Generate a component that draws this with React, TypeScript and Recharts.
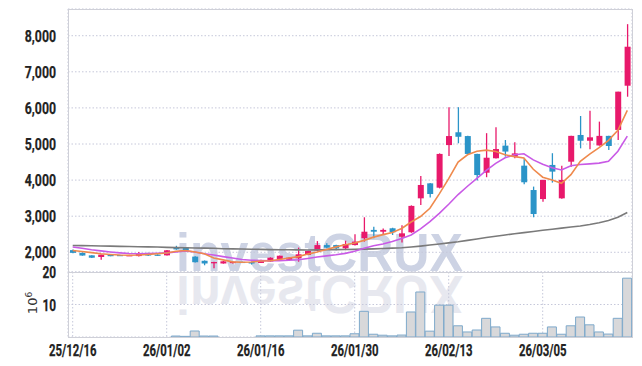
import React from 'react';
import { ComposedChart, Bar, Line, XAxis, YAxis, CartesianGrid } from 'recharts';

const dates = [
  '25/12/16', '25/12/17', '25/12/18', '25/12/19', '25/12/22', '25/12/23', '25/12/24', '25/12/26', '25/12/29', '25/12/30',
  '26/01/02', '26/01/05', '26/01/06', '26/01/07', '26/01/08', '26/01/09', '26/01/12', '26/01/13', '26/01/14', '26/01/15',
  '26/01/16', '26/01/19', '26/01/20', '26/01/21', '26/01/22', '26/01/23', '26/01/26', '26/01/27', '26/01/28', '26/01/29',
  '26/01/30', '26/02/02', '26/02/03', '26/02/04', '26/02/05', '26/02/06', '26/02/09', '26/02/10', '26/02/11', '26/02/12',
  '26/02/13', '26/02/19', '26/02/20', '26/02/23', '26/02/24', '26/02/25', '26/02/26', '26/02/27', '26/03/03', '26/03/04',
  '26/03/05', '26/03/06', '26/03/09', '26/03/10', '26/03/11', '26/03/12', '26/03/13', '26/03/16', '26/03/17', '26/03/18',
];

const opens = [
  2060, 1985, 1915, 1870, 1925, 1925, 1910, 1895, 1975, 1935,
  1915, 2130, 2140, 1880, 1765, 1695, 1690, 1700, 1735, 1730,
  1705, 1745, 1815, 1790, 1835, 1925, 2045, 2200, 2200, 2110,
  2200, 2390, 2620, 2570, 2665, 2430, 2555, 3495, 3910, 3790,
  4970, 5325, 5220, 4725, 4205, 4605, 4955, 4650, 4400, 3725,
  3475, 4420, 3495, 4510, 5250, 5090, 4960, 5225, 5390, 6615,
];
const highs = [
  2080, 1995, 1920, 1940, 1940, 1935, 1930, 2010, 1985, 1945,
  2065, 2180, 2150, 1890, 1775, 1735, 1760, 1745, 1745, 1740,
  1790, 1860, 1910, 1860, 2130, 2040, 2310, 2250, 2210, 2320,
  2500, 2970, 2710, 2660, 2680, 2750, 3300, 4115, 3920, 4740,
  6020, 6020, 5230, 4730, 5300, 5465, 5110, 5050, 4600, 3820,
  4010, 4745, 4400, 5230, 5775, 5920, 5620, 5230, 6450, 8320,
];
const lows = [
  1975, 1905, 1840, 1790, 1890, 1905, 1900, 1880, 1900, 1905,
  1910, 2070, 2040, 1715, 1640, 1560, 1685, 1690, 1715, 1660,
  1700, 1740, 1810, 1780, 1740, 1920, 2040, 2110, 2060, 2060,
  2190, 2295, 2390, 2480, 2480, 2270, 2540, 3310, 3520, 3770,
  4670, 5020, 4720, 3990, 4080, 4600, 4650, 4605, 3885, 2970,
  3400, 3930, 3480, 4370, 4880, 4855, 4955, 4835, 5110, 6310,
];
const closes = [
  1985, 1910, 1850, 1935, 1905, 1915, 1920, 1975, 1910, 1920,
  2055, 2080, 2050, 1725, 1690, 1730, 1750, 1740, 1725, 1690,
  1780, 1850, 1905, 1850, 1945, 2035, 2200, 2130, 2110, 2230,
  2295, 2570, 2570, 2620, 2555, 2525, 3285, 3865, 3615, 4725,
  5220, 5200, 4725, 4140, 4620, 4860, 4790, 4740, 3940, 3060,
  4005, 4235, 4005, 5225, 5090, 5185, 5225, 4945, 6450, 7695,
];
const volumes = [
  0, 0, 0, 0, 0, 0, 0, 0, 0, 0,
  0, 0.3, 0.2, 1.85, 0.3, 0.3, 0, 0, 0, 0,
  0.35, 0.35, 0.35, 0.35, 2.1, 0.35, 1.15, 0.35, 0.35, 0.35,
  1.0, 7.9, 0.85, 0.55, 0.35, 0.6, 7.7, 13.85, 1.8, 9.8,
  9.8, 3.45, 1.55, 2.15, 5.75, 3.1, 1.15, 0.55, 0.85, 1.15,
  1.15, 3.1, 0.85, 3.45, 6.15, 3.75, 1.55, 0.9, 5.75, 18.1,
];
const ma5 = [
  2050, 2020, 1990, 1960, 1940, 1925, 1920, 1925, 1940, 1960,
  1980, 2030, 2050, 2010, 1960, 1840, 1790, 1735, 1725, 1730,
  1760, 1765, 1800, 1840, 1880, 1950, 2010, 2080, 2150, 2210,
  2255, 2330, 2420, 2490, 2550, 2660, 2840, 2990, 3220, 3620,
  4040, 4500, 4700, 4800, 4830, 4790, 4700, 4650, 4610, 4300,
  4080, 4000, 3910, 4150, 4520, 4720, 4900, 5100, 5380, 5930,
];
const ma20 = [
  2145, 2110, 2070, 2040, 2010, 1985, 1965, 1960, 1965, 1975,
  1985, 2010, 2040, 2010, 1960, 1925, 1880, 1840, 1800, 1780,
  1770, 1765, 1770, 1780, 1795, 1830, 1870, 1900, 1930, 1970,
  2030, 2110, 2180, 2230, 2300, 2380, 2480, 2650, 2850, 3080,
  3330, 3600, 3830, 4050, 4270, 4465, 4620, 4700, 4730, 4560,
  4440, 4340, 4280, 4400, 4430, 4450, 4470, 4520, 4800, 5220,
];
const ma60 = [
  2190, 2185, 2180, 2175, 2170, 2165, 2160, 2155, 2150, 2145,
  2135, 2130, 2125, 2120, 2115, 2110, 2100, 2095, 2090, 2085,
  2080, 2075, 2072, 2070, 2066, 2064, 2066, 2070, 2074, 2078,
  2082, 2088, 2095, 2105, 2115, 2125, 2145, 2170, 2200, 2230,
  2260, 2290, 2330, 2370, 2410, 2445, 2480, 2515, 2545, 2575,
  2610, 2640, 2670, 2700, 2730, 2770, 2820, 2880, 2970, 3100,
];

const priceTicks = [2000, 3000, 4000, 5000, 6000, 7000, 8000];
const volumeTicks = [10, 20];

const data = dates.map((d, i) => ({
  date: d,
  open: opens[i],
  high: highs[i],
  low: lows[i],
  close: closes[i],
  vol: volumes[i],
  ma5: ma5[i],
  ma20: ma20[i],
  ma60: ma60[i],
}));

const UP = '#e8196b';
const DOWN = '#2b94c8';
const GRID = '#c6c8da';
const FRAME = '#cfd0d8';
const FONT = "Roboto, 'DejaVu Sans', sans-serif";

const charWidth = (s: string) =>
  s.split('').reduce((w, c) => w + (c === ',' ? 4 : c === '/' ? 3.4 : 6.8), 0);

const TickText = ({ x, y, label, anchor, dy }: any) => (
  <text x={x} y={y} dy={dy} textAnchor={anchor} fontSize={16} fontWeight="bold" fontFamily={FONT}
    fill="#222" stroke="#222" strokeWidth={0.25} textLength={charWidth(label)} lengthAdjust="spacingAndGlyphs">{label}</text>
);

const YTick = (props: any) => {
  const { x, y, payload } = props;
  const label = Number(payload.value).toLocaleString('en-US');
  return <TickText x={x} y={y} label={label} anchor="end" dy={6} />;
};

const XTick = (props: any) => {
  const { x, y, payload } = props;
  return <TickText x={x} y={y} label={String(payload.value)} anchor="middle" dy={11} />;
};

const Candle = (props: any) => {
  const { x, y, width, height, payload } = props;
  if (!payload) return null;
  const { open, close, high, low } = payload;
  const top = Math.min(y, y + height);
  const h = Math.abs(height);
  const ppu = high > low ? h / (high - low) : 0;
  const bodyTop = top + (high - Math.max(open, close)) * ppu;
  const bodyBot = top + (high - Math.min(open, close)) * ppu;
  const color = close >= open ? UP : DOWN;
  const cx = x + width / 2;
  return (
    <g>
      <line x1={cx} x2={cx} y1={top} y2={top + h} stroke={color} strokeWidth={1.3} />
      <rect x={x} y={bodyTop} width={width} height={Math.max(1.2, bodyBot - bodyTop)} fill={color} />
    </g>
  );
};

export default function App() {
  return (
    <div style={{ position: 'absolute', left: 0, top: 0, width: 642, height: 366, background: '#fff' }}>
      <svg width={642} height={366} style={{ position: 'absolute', left: 0, top: 0 }}>
        <text x={176} y={271} fontSize={53} fontWeight="bold" fontFamily="'Liberation Sans', Arial, sans-serif"
          fill="#cdd3e4" textLength={287} lengthAdjust="spacingAndGlyphs">investCRUX</text>
        <g transform="translate(0,547) scale(1,-1)">
          <text x={176} y={271} fontSize={53} fontWeight="bold" fontFamily="'Liberation Sans', Arial, sans-serif"
            fill="#e7e8ef" textLength={287} lengthAdjust="spacingAndGlyphs">investCRUX</text>
        </g>
      </svg>
      <div style={{ position: 'absolute', left: 0, top: 0 }}>
        <ComposedChart width={642} height={272} data={data} margin={{ top: 9, right: 10, bottom: 0, left: 0 }}>
          <CartesianGrid stroke={GRID} strokeDasharray="1.5 2" />
          <XAxis dataKey="date" interval={9} height={0} tick={false} axisLine={false} tickLine={false} />
          <YAxis domain={[1454, 8740]} ticks={priceTicks} allowDataOverflow width={68}
            tick={<YTick />} axisLine={false} tickLine={false} tickMargin={6} />
          <Bar dataKey={(d: any) => [d.low, d.high]} barSize={6} shape={<Candle />} isAnimationActive={false} />
          <Line dataKey="ma60" stroke="#7a7a7a" strokeWidth={1.6} dot={false} type="linear" isAnimationActive={false} />
          <Line dataKey="ma20" stroke="#c95ae6" strokeWidth={1.6} dot={false} type="linear" isAnimationActive={false} />
          <Line dataKey="ma5" stroke="#ef8a4d" strokeWidth={1.6} dot={false} type="linear" isAnimationActive={false} />
        </ComposedChart>
      </div>
      <div style={{ position: 'absolute', left: 0, top: 0 }}>
        <ComposedChart width={642} height={366} data={data} barCategoryGap={0} margin={{ top: 272, right: 10, bottom: 0, left: 0 }}>
          <CartesianGrid stroke={GRID} strokeDasharray="1.5 2" />
          <XAxis dataKey="date" interval={9} height={29} tick={<XTick />} axisLine={false} tickLine={false} tickMargin={2} />
          <YAxis domain={[0, 20]} ticks={volumeTicks} width={68} tick={<YTick />} axisLine={false} tickLine={false} tickMargin={6} />
          <Bar dataKey="vol" fill="#d8d8da" stroke="#7ea9cb" strokeWidth={1} isAnimationActive={false} />
        </ComposedChart>
      </div>
      <svg width={642} height={366} style={{ position: 'absolute', left: 0, top: 0, pointerEvents: 'none' }}>
        <line x1={68} x2={633} y1={9.5} y2={9.5} stroke={FRAME} />
        <line x1={68.5} x2={68.5} y1={9} y2={338} stroke={FRAME} />
        <line x1={632.5} x2={632.5} y1={9} y2={338} stroke={FRAME} />
        <line x1={68} x2={633} y1={272.5} y2={272.5} stroke={FRAME} />
        <line x1={68} x2={633} y1={337.5} y2={337.5} stroke={FRAME} />
        <text transform="translate(37,303) rotate(-90)" textAnchor="middle" fontSize={13}
          fontFamily="'DejaVu Sans', sans-serif" fill="#333">
          10<tspan dy={-5} fontSize={9}>6</tspan>
        </text>
      </svg>
    </div>
  );
}
